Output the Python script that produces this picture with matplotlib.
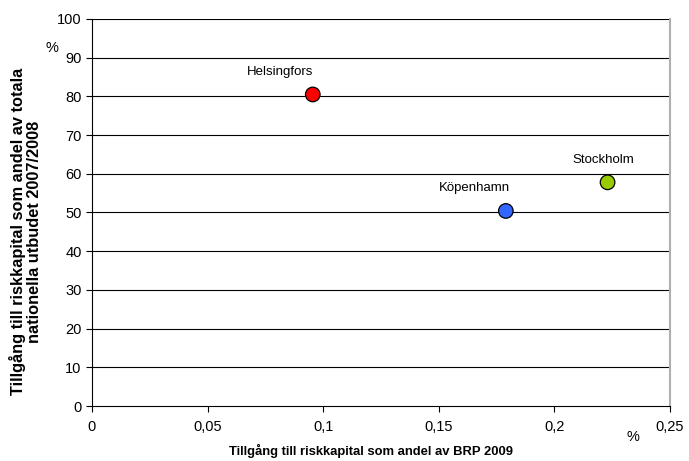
import matplotlib
matplotlib.use("Agg")
import matplotlib.pyplot as plt
from matplotlib.ticker import FuncFormatter

plt.rcParams['font.family'] = ['Liberation Sans', 'DejaVu Sans']

# ---------------------------------------------
# Data
# ---------------------------------------------
cities = ["Helsingfors", "Köpenhamn", "Stockholm"]
brp_share = [0.0955, 0.179, 0.223]
national_share = [80.5, 50.4, 57.8]
colors = ["#ff0000", "#3366ff", "#99cc00"]
label_offsets = [(-0.0142, 5.8), (-0.0135, 6.0), (-0.002, 5.8)]

xticks = [0, 0.05, 0.1, 0.15, 0.2, 0.25]
yticks = list(range(0, 101, 10))

# ---------------------------------------------
# Plot
# ---------------------------------------------
fig = plt.figure(figsize=(6.89, 4.61), dpi=100)
ax = fig.add_axes([0.1335, 0.1193, 0.9724 - 0.1335, 0.9588 - 0.1193])

for y in yticks[1:]:
    ax.axhline(y, color="black", lw=0.8, zorder=1)

ax.scatter(brp_share, national_share, s=110, c=colors, edgecolors="black",
           linewidths=0.9, zorder=3)
for name, x, y, (dx, dy) in zip(cities, brp_share, national_share, label_offsets):
    ax.text(x + dx, y + dy, name, ha="center", va="center", fontsize=9.5)

ax.set_xlim(0, 0.25)
ax.set_ylim(0, 100)
ax.set_xticks(xticks)
ax.set_yticks(yticks)
ax.xaxis.set_major_formatter(FuncFormatter(lambda v, p: ("%g" % v).replace(".", ",")))
ax.tick_params(axis="both", labelsize=10.5, direction="out", length=4, width=0.8)
ax.tick_params(axis="x", pad=6)

ax.spines["top"].set_visible(False)
ax.spines["right"].set_color("#b0b0b0")
ax.spines["right"].set_linewidth(1.5)
ax.spines["left"].set_linewidth(0.8)
ax.spines["bottom"].set_linewidth(0.8)

ax.set_xlabel("Tillgång till riskkapital som andel av BRP 2009",
              fontsize=9.4, fontweight="bold", labelpad=7)
ax.xaxis.label.set_x(0.483)
ax.set_ylabel("Tillgång till riskkapital som andel av totala\nnationella utbudet 2007/2008",
              fontsize=11.8, fontweight="bold", labelpad=11, linespacing=1.05)
ax.yaxis.label.set_y(0.45)

fig.text(52 / 689, 1 - 48 / 461, "%", fontsize=10.5, ha="center", va="center")
fig.text(633 / 689, 1 - 437 / 461, "%", fontsize=10.5, ha="center", va="center")

fig.savefig("out.png", dpi=100)
